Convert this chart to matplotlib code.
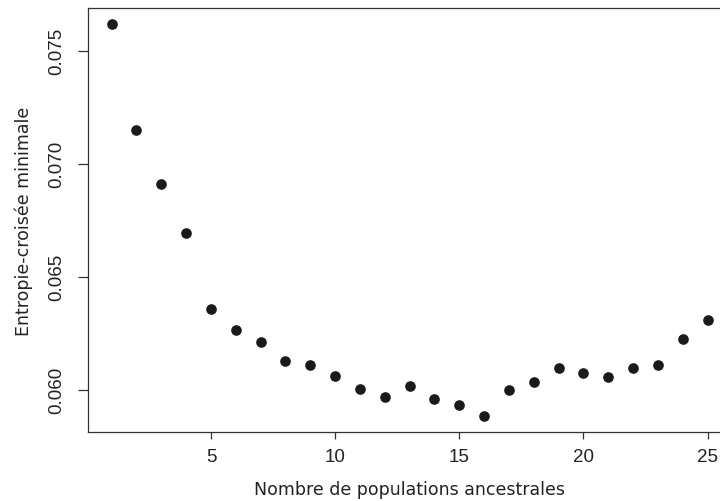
import numpy as np
import matplotlib.pyplot as plt

# valeurs
k = list(range(1, 26))
entropie = [0.076195, 0.071504, 0.069088, 0.066934, 0.063584, 0.062655,
            0.062111, 0.061283, 0.061093, 0.060606, 0.060031, 0.059690,
            0.060177, 0.059588, 0.059323, 0.058836, 0.059973, 0.060354,
            0.060973, 0.060739, 0.060575, 0.060960, 0.061093, 0.062243,
            0.063071]
xticks = [5, 10, 15, 20, 25]
yticks = [0.060, 0.065, 0.070, 0.075]

fig = plt.figure(figsize=(7.2, 5.02), dpi=100)
# l'axe droit est coupé dans l'original
ax = fig.add_axes([87.8 / 720, 1 - 433.3 / 502, 643.6 / 720, (433.3 - 9.3) / 502])

ax.scatter(k, entropie, s=44, color='#1a1a1a', zorder=3)

ax.set_xlim(0.04, 25.96)
ax.set_ylim(0.058115, 0.076876)
ax.set_xticks(xticks)
ax.set_yticks(yticks)
ax.set_yticklabels(['%.3f' % v for v in yticks], rotation=90, va='center')
ax.tick_params(direction='out', width=0.9, colors='#333333', labelsize=13.5)
ax.tick_params(axis='x', length=5, pad=6)
ax.tick_params(axis='y', length=7, pad=9)
for lab in ax.get_xticklabels() + ax.get_yticklabels():
    lab.set_fontfamily('Liberation Sans')
    lab.set_color('#222222')

for s in ax.spines.values():
    s.set_linewidth(0.9)
    s.set_color('#333333')

ax.set_xlabel('Nombre de populations ancestrales', fontsize=12.5,
              color='#222222', labelpad=11)
ax.set_ylabel('Entropie-croisée minimale', fontsize=12.5,
              color='#222222', labelpad=11)

fig.savefig('out.png', dpi=100)
